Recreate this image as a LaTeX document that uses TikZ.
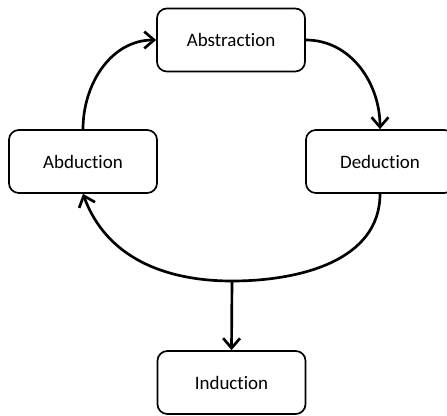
\documentclass[tikz,border=0pt]{standalone}
\usepackage{fontspec}
\setmainfont{Carlito}[Ligatures=NoCommon]
\usetikzlibrary{arrows.meta}
\begin{document}
\begin{tikzpicture}
    [x=0.025cm,y=0.025cm,
     stage/.style={draw, rounded corners=7pt, line width=1.2pt,
      minimum width=3.7cm, minimum height=1.575cm,
      font=\fontsize{13.5}{16}\selectfont},
     flow/.style={line width=1.9pt, -{Straight Barb[length=7pt,width=12pt,line width=1.9pt]}}]
    %% cycle of reasoning
    \useasboundingbox (0,0) rectangle (447,415);

    \node[stage] (abstraction) at (231,375) {Abstraction};
    \node[stage] (abduction) at (83,253.5) {Abduction};
    \node[stage] (deduction) at (380,253.5) {Deduction};
    \node[stage] (induction) at (231.5,32.5) {Induction};
    \coordinate (bottom) at (232,134);

    \draw[flow] (abduction.north) to[out=90,in=180] (abstraction.west);
    \draw[flow] (abstraction.east) to[out=0,in=90] (deduction.north);
    \draw[flow] (deduction.south) to[out=-90,in=0] (bottom)
      to[out=180,in=-70] (abduction.south);
    \draw[flow] (bottom) -- (induction.north);
  \end{tikzpicture}
\end{document}
